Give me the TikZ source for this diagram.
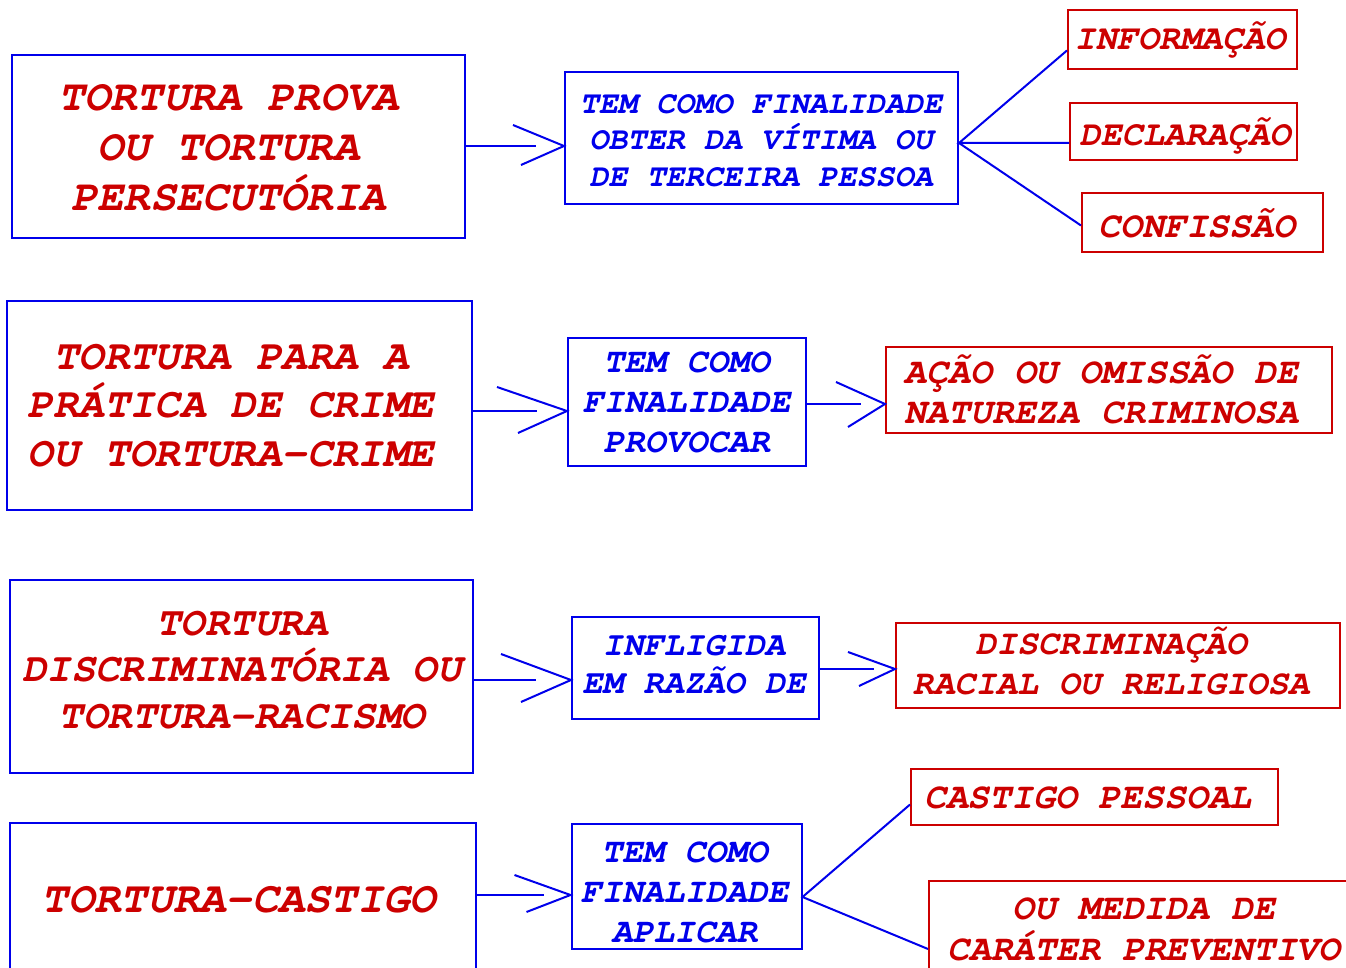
\documentclass[tikz,border=0pt]{standalone}
\usepackage{fontspec}
\usetikzlibrary{calc}
\newfontfamily\cour{texgyrecursor-bolditalic.otf}
\definecolor{bl}{RGB}{0,0,235}
\definecolor{rd}{RGB}{204,0,0}
\tikzset{
  box/.style={draw, line width=1pt, inner sep=0pt, rectangle},
  bbox/.style={box, draw=bl},
  rbox/.style={box, draw=rd},
  txt/.style={inner sep=0pt, align=center, xshift=-1pt},
  rtxt/.style={txt, text=rd},
  btxt/.style={txt, text=bl},
  conn/.style={draw=bl, line width=1pt},
}
\newcommand{\fsz}[2]{\cour\fontsize{#1}{#2}\selectfont}
% shaft from box #1 to tip #2 (gap #3), arms #4,#5 and #6,#7
\newcommand{\varrow}[7]{%
  \draw[conn] (#1.east |- #2) -- ($(#2)+(-#3,0)$);
  \draw[conn] ($(#2)+(#4,#5)$) -- (#2) -- ($(#2)+(#6,#7)$);}
\begin{document}
\begin{tikzpicture}[x=0.5pt,y=-0.5pt]
\useasboundingbox (0,0) rectangle (1346,968);

% ---------- row 1
\node[bbox, minimum width=226.5pt, minimum height=91.5pt] (A1) at (238.5,146.5) {};
\node[rtxt, font=\fsz{21.8}{24.9}] (A1t) at (230.5,148) {TORTURA PROVA\\OU TORTURA\\PERSECUTÓRIA};
\node[bbox, minimum width=196.5pt, minimum height=66pt] (B1) at (761.5,138) {};
\node[btxt, font=\fsz{15.9}{18.2}] (B1t) at (763,140.5) {TEM COMO FINALIDADE\\OBTER DA VÍTIMA OU\\DE TERCEIRA PESSOA};
\node[rbox, minimum width=114.5pt, minimum height=29.5pt] (C1a) at (1182.5,39.5) {};
\node[rtxt, font=\fsz{17.6}{20}] (C1at) at (1182,40) {INFORMAÇÃO};
\node[rbox, minimum width=113.5pt, minimum height=28.5pt] (C1b) at (1183.5,131.5) {};
\node[rtxt, font=\fsz{17.6}{20}] (C1bt) at (1187,135.5) {DECLARAÇÃO};
\node[rbox, minimum width=120.5pt, minimum height=29.5pt] (C1c) at (1202.5,222.5) {};
\node[rtxt, font=\fsz{18.3}{20}] (C1ct) at (1199,223) {CONFISSÃO};

\coordinate (t1) at (B1.west |- 0,146);
\varrow{A1}{t1}{28}{-51}{-21}{-43}{19}
\coordinate (f1) at (B1.east |- 0,143);
\draw[conn] ($(C1a.south west)!0.32!(C1a.north west)$) -- (f1) -- (f1 -| C1b.west);
\draw[conn] (f1) -- ($(C1c.west)+(0,3)$);

% ---------- row 2
\node[bbox, minimum width=232.5pt, minimum height=104.5pt] (A2) at (239.5,405.5) {};
\node[rtxt, font=\fsz{21.15}{24.25}] (A2t) at (233,405.5) {TORTURA PARA A\\PRÁTICA DE CRIME\\OU TORTURA-CRIME};
\node[bbox, minimum width=119pt, minimum height=64pt] (B2) at (687,402) {};
\node[btxt, font=\fsz{17.3}{19.8}] (B2t) at (688.5,402.5) {TEM COMO\\FINALIDADE\\PROVOCAR};
\node[rbox, minimum width=223pt, minimum height=43pt] (C2) at (1109,390) {};
\node[rtxt, font=\fsz{18.2}{20}] (C2t) at (1103.5,389) {AÇÃO OU OMISSÃO DE\\NATUREZA CRIMINOSA};

\coordinate (t2) at (B2.west |- 0,411);
\varrow{A2}{t2}{30}{-70}{-24}{-49}{22}
\coordinate (t2b) at (C2.west |- 0,404);
\varrow{B2}{t2b}{24}{-49}{-22}{-37}{23}

% ---------- row 3
\node[bbox, minimum width=231.5pt, minimum height=96.5pt] (A3) at (241.5,676.5) {};
\node[rtxt, font=\fsz{20.35}{23.1}] (A3t) at (244,670) {TORTURA\\DISCRIMINATÓRIA OU\\TORTURA-RACISMO};
\node[bbox, minimum width=123.5pt, minimum height=51pt] (B3) at (695.5,668) {};
\node[btxt, font=\fsz{16.9}{19}] (B3t) at (696,665) {INFLIGIDA\\EM RAZÃO DE};
\node[rbox, minimum width=222pt, minimum height=42.5pt] (C3) at (1118,665.5) {};
\node[rtxt, font=\fsz{17.4}{20}] (C3t) at (1113,661) {DISCRIMINAÇÃO\\RACIAL OU RELIGIOSA};

\coordinate (t3) at (B3.west |- 0,680);
\varrow{A3}{t3}{35}{-70}{-26}{-50}{22}
\coordinate (t3b) at (C3.west |- 0,669);
\varrow{B3}{t3b}{21}{-47}{-17}{-36}{17}

% ---------- row 4
\node[bbox, minimum width=233pt, minimum height=77pt] (A4) at (243,900) {};
\node[rtxt, font=\fsz{21.9}{24}] (A4t) at (241,899.5) {TORTURA-CASTIGO};
\node[bbox, minimum width=115pt, minimum height=62.5pt] (B4) at (686.5,886.5) {};
\node[btxt, font=\fsz{17.3}{19.9}] (B4t) at (686.5,892.3) {TEM COMO\\FINALIDADE\\APLICAR};
\node[rbox, minimum width=183.5pt, minimum height=28pt] (C4a) at (1094.5,797) {};
\node[rtxt, font=\fsz{18.2}{20}] (C4at) at (1090,797.5) {CASTIGO PESSOAL};
\node[rbox, minimum width=216pt, minimum height=48pt] (C4b) at (1145,929) {};
\node[rtxt, font=\fsz{18.2}{20.5}] (C4bt) at (1146,929) {OU MEDIDA DE\\CARÁTER PREVENTIVO};

\coordinate (t4) at (B4.west |- 0,895);
\varrow{A4}{t4}{27}{-56}{-20}{-44}{17}
\coordinate (f4) at (B4.east |- 0,897);
\draw[conn] ($(C4a.south west)!0.37!(C4a.north west)$) -- (f4) -- ($(C4b.west)+(0,20)$);
\end{tikzpicture}
\end{document}
